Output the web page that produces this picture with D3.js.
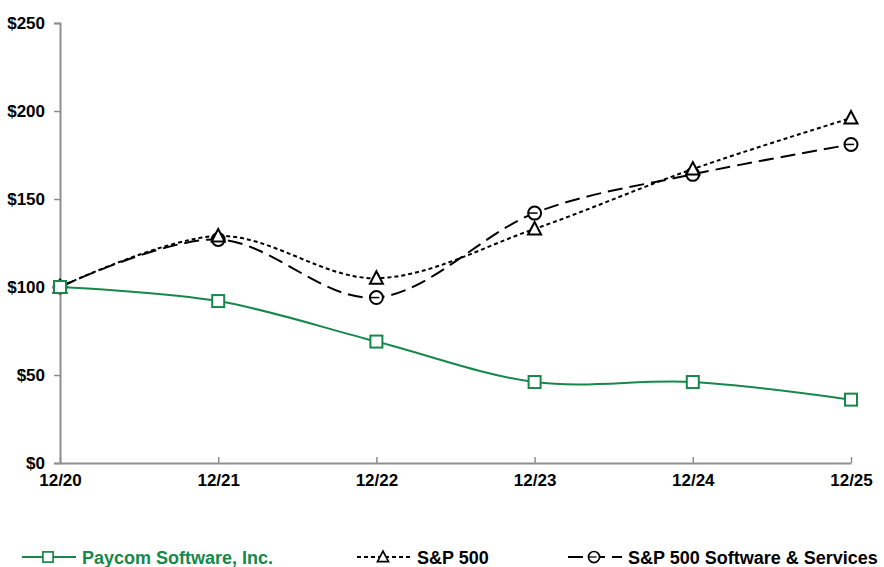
<!DOCTYPE html>
<html>
<head>
<meta charset="utf-8">
<script src="https://cdn.jsdelivr.net/npm/d3@7"></script>
<style>
  body { margin: 0; background: #fff; }
  text { font-family: "Liberation Sans", Arial, sans-serif; font-weight: bold; }
</style>
</head>
<body>
<div id="chart"></div>
<script>
var years = ['12/20', '12/21', '12/22', '12/23', '12/24', '12/25'];
var paycom = [100, 92, 69, 46, 46, 36];
var sp500 = [100, 129, 105, 133, 167, 196];
var spSoftware = [100, 127, 94, 142, 164, 181];
var yTicks = [0, 50, 100, 150, 200, 250];

var width = 884, height = 567,
    green = '#16884a',
    axiscolor = '#8f8f8f';

var svg = d3.select('#chart').append('svg')
    .attr('width', width)
    .attr('height', height);

var x = d3.scalePoint().domain(years).range([60, 851]);
var y = d3.scaleLinear().domain([0, 250]).range([463, 23]);

// y axis
var yAxis = svg.append('g')
    .attr('transform', 'translate(60,0)')
    .call(d3.axisLeft(y).tickValues(yTicks).tickSize(6).tickPadding(9)
        .tickFormat(function (d) { return '$' + d; }));
yAxis.select('.domain').attr('stroke', axiscolor).attr('stroke-width', 2);
yAxis.selectAll('.tick line').attr('stroke', axiscolor).attr('stroke-width', 1.5);
yAxis.selectAll('.tick text').attr('font-size', 17).attr('fill', '#000')
    .attr('font-family', '"Liberation Sans", Arial, sans-serif').attr('font-weight', 'bold');

// x axis, ticks point up
var xAxis = svg.append('g')
    .attr('transform', 'translate(0,463)')
    .call(d3.axisBottom(x).tickSize(0).tickPadding(11));
xAxis.select('.domain').attr('stroke', axiscolor).attr('stroke-width', 2);
xAxis.selectAll('.tick').append('line')
    .attr('y1', 0).attr('y2', -6)
    .attr('stroke', axiscolor).attr('stroke-width', 1.5);
xAxis.selectAll('.tick text').attr('font-size', 17).attr('fill', '#000')
    .attr('font-family', '"Liberation Sans", Arial, sans-serif').attr('font-weight', 'bold');

var line = d3.line()
    .x(function (d, i) { return x(years[i]); })
    .y(function (d) { return y(d); })
    .curve(d3.curveCardinal.tension(0));

var series = [
    { name: 'Paycom Software, Inc.', values: paycom, color: green, dash: null, marker: 'square' },
    { name: 'S&P 500', values: sp500, color: '#000', dash: '4,3', marker: 'triangle' },
    { name: 'S&P 500 Software & Services', values: spSoftware, color: '#000', dash: '15,7', marker: 'circle' }
];

var drawMarker = function (g, type, color) {
    if (type === 'square') {
        g.append('rect').attr('x', -6).attr('y', -6).attr('width', 12).attr('height', 12)
            .attr('fill', '#fff').attr('stroke', color).attr('stroke-width', 2);
    } else if (type === 'triangle') {
        g.append('path').attr('d', 'M0,-7L6.5,5.5L-6.5,5.5Z')
            .attr('fill', '#fff').attr('stroke', color).attr('stroke-width', 2);
    } else {
        g.append('circle').attr('r', 6.5)
            .attr('fill', '#fff').attr('stroke', color).attr('stroke-width', 2);
        g.append('line').attr('x1', -6.5).attr('x2', 3)
            .attr('stroke', color).attr('stroke-width', 1.5);
    }
};

// lines first, markers on top
series.slice().reverse().forEach(function (s) {
    svg.append('path')
        .attr('d', line(s.values))
        .attr('fill', 'none')
        .attr('stroke', s.color)
        .attr('stroke-width', 2)
        .attr('stroke-dasharray', s.dash);
});
series.slice().reverse().forEach(function (s) {
    s.values.forEach(function (v, i) {
        var g = svg.append('g').attr('transform', 'translate(' + x(years[i]) + ',' + y(v) + ')');
        drawMarker(g, s.marker, s.color);
    });
});

// legend
var legendX = [22, 357, 568];
series.forEach(function (s, i) {
    var lg = svg.append('g').attr('transform', 'translate(' + legendX[i] + ',557)');
    lg.append('line').attr('x1', 0).attr('x2', 54)
        .attr('stroke', s.color).attr('stroke-width', 2)
        .attr('stroke-dasharray', s.dash);
    var m = lg.append('g');
    drawMarker(m, s.marker, s.color);
    m.attr('transform', 'translate(26,0) scale(0.85)');
    lg.append('text')
        .attr('x', 60).attr('y', 7)
        .attr('font-size', 18)
        .attr('fill', s.color === green ? green : '#000')
        .text(s.name);
});
</script>
</body>
</html>
